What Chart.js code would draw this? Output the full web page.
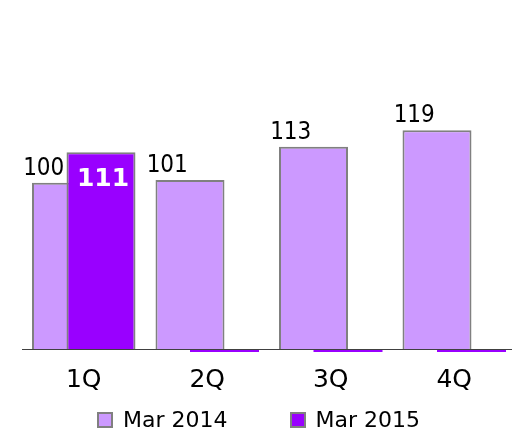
<!DOCTYPE html>
<html>
<head>
<meta charset="utf-8">
<script src="https://cdn.jsdelivr.net/npm/chart.js@4.4.0/dist/chart.umd.min.js"></script>
<style>
  html, body { margin: 0; padding: 0; background: #fff; overflow: hidden; width: 512px; height: 432px; }
  #wrap { position: absolute; left: 0; top: 0; width: 518px; height: 415px; }
  #legend { position: absolute; left: 97px; top: 407px; display: flex; align-items: center;
            font-family: 'DejaVu Sans', sans-serif; font-size: 22px; line-height: 26px; color: #000; }
  .item { display: flex; align-items: center; margin-right: 62px; }
  .box { width: 12px; height: 12px; border: 2px solid #808080; margin-right: 10px; }
</style>
</head>
<body>
<div id="wrap"><canvas id="chart" width="518" height="415"></canvas></div>
<div id="legend"></div>
<script>
var categories = ['1Q', '2Q', '3Q', '4Q'];
var mar2014 = [100, 101, 113, 119];
var mar2015 = [111, 0, 0, 0];
var seriesNames = ['Mar 2014', 'Mar 2015'];
var seriesColors = ['#CC99FF', '#9900FF'];

// Chart.js paints the first dataset on top; here the 2015 bar has to overlap the 2014 one
var overlapOrder = {
  id: 'overlapOrder',
  beforeDatasetDraw: function(chart, args) {
    if (args.index === 1) return false;
  },
  afterDatasetDraw: function(chart, args) {
    if (args.index !== 0) return;
    var a = chart.chartArea;
    var ctx = chart.ctx;
    ctx.save();
    ctx.beginPath();
    ctx.rect(a.left, a.top, a.right - a.left, a.bottom - a.top);
    ctx.clip();
    chart.getDatasetMeta(1).controller.draw();
    ctx.restore();
  }
};

// value labels: plain above the 2014 bars, bold white inside the 2015 bar
var barLabels = {
  id: 'barLabels',
  afterDatasetsDraw: function(chart) {
    var ctx = chart.ctx;
    var bottom = chart.chartArea.bottom;
    ctx.save();
    chart.data.datasets.forEach(function(ds, i) {
      var meta = chart.getDatasetMeta(i);
      meta.data.forEach(function(el, j) {
        var v = ds.data[j];
        if (i === 0) {
          ctx.font = '24px "DejaVu Sans Condensed", "DejaVu Sans", sans-serif';
          ctx.fillStyle = '#000';
          ctx.textAlign = 'center';
          ctx.textBaseline = 'bottom';
          ctx.fillText(v, el.x - el.width * 0.33, el.y - 2);
        } else if (v > 0) {
          ctx.font = 'bold 25px "DejaVu Sans", sans-serif';
          ctx.fillStyle = '#fff';
          ctx.textAlign = 'center';
          ctx.textBaseline = 'middle';
          ctx.fillText(v, el.x + 2, el.y + 27);
        } else {
          // zero-height bar shows as a flat strip on the axis
          ctx.fillStyle = ds.backgroundColor;
          ctx.fillRect(el.x - el.width / 2, bottom + 1, el.width, 2);
        }
      });
    });
    ctx.restore();
  }
};

var chart = new Chart(document.getElementById('chart').getContext('2d'), {
  type: 'bar',
  data: {
    labels: categories,
    datasets: [{
      label: seriesNames[0],
      data: mar2014,
      backgroundColor: seriesColors[0],
      borderColor: '#808080',
      borderWidth: 2,
      clip: 0
    }, {
      label: seriesNames[1],
      data: mar2015,
      backgroundColor: seriesColors[1],
      borderColor: '#808080',
      borderWidth: 2,
      clip: 0
    }]
  },
  options: {
    responsive: false,
    animation: false,
    categoryPercentage: 0.5587,
    barPercentage: 2,
    layout: { padding: { left: 22, right: 2, top: 72, bottom: 4 } },
    plugins: {
      legend: { display: false },
      tooltip: { enabled: false }
    },
    scales: {
      x: {
        grid: { display: false, drawTicks: false },
        border: { display: true, color: '#404040', width: 1 },
        ticks: {
          padding: 16,
          color: '#000',
          font: { family: 'DejaVu Sans', size: 25 }
        }
      },
      y: {
        display: false,
        min: 40,
        max: 140
      }
    }
  },
  plugins: [overlapOrder, barLabels]
});

var legend = document.getElementById('legend');
chart.data.datasets.forEach(function(ds) {
  var item = document.createElement('div');
  item.className = 'item';
  var box = document.createElement('span');
  box.className = 'box';
  box.style.background = ds.backgroundColor;
  var txt = document.createElement('span');
  txt.textContent = ds.label;
  item.appendChild(box);
  item.appendChild(txt);
  legend.appendChild(item);
});
</script>
</body>
</html>
